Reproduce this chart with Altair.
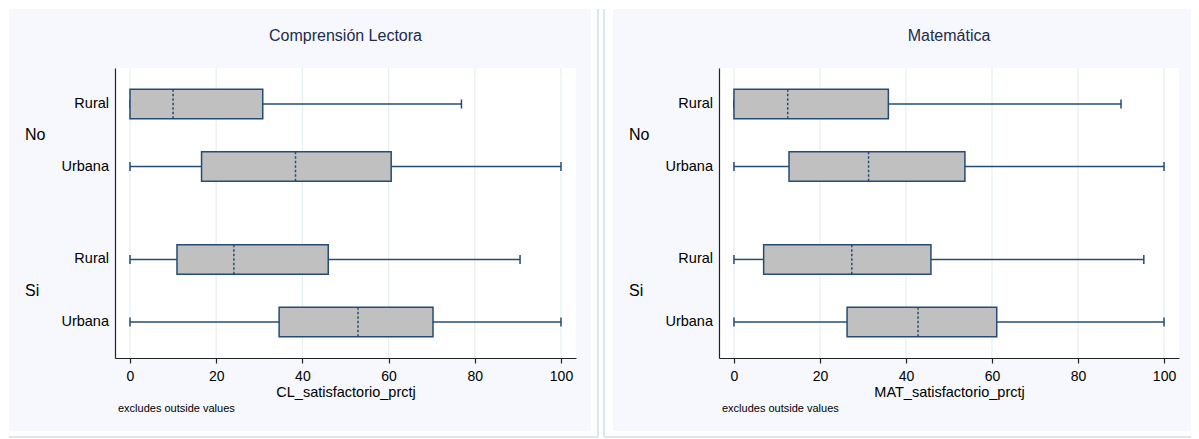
import altair as alt
import pandas as pd

# ---------------- data ----------------
subjects = ["Comprensión Lectora", "Matemática"]
x_titles = ["CL_satisfactorio_prctj", "MAT_satisfactorio_prctj"]
groups = ["No", "No", "Si", "Si"]
areas = ["Rural", "Urbana", "Rural", "Urbana"]

cl_lo = [0, 0, 0, 0]
cl_q1 = [0, 16.6, 10.9, 34.6]
cl_med = [10.0, 38.4, 24.1, 52.9]
cl_q3 = [30.8, 60.6, 46.0, 70.3]
cl_hi = [76.9, 100, 90.5, 100]

mat_lo = [0, 0, 0, 0]
mat_q1 = [0, 12.8, 6.9, 26.3]
mat_med = [12.5, 31.3, 27.4, 42.8]
mat_q3 = [35.9, 53.7, 45.8, 61.1]
mat_hi = [90.0, 100, 95.3, 100]

x_ticks = [0, 20, 40, 60, 80, 100]
note = "excludes outside values"

# ---------------- style ----------------
FONT = "Liberation Sans"
PANEL_BG = "#f6f8fd"
BORDER = "#dce6f2"
GRID = "#e6eef1"
BOX_FILL = "#c0c0c0"
NAVY = "#244c76"
AXIS_C = "#222222"
TITLE_C = "#1c2b4a"

H = 290
GROUP_STEP = 2.485      # layout spacing between the two groups (in row units)
BOX_HALF = 0.236
CAP_HALF = 0.072
Y_PAD = 0.576


def panel(title, xtitle, lo, q1, med, q3, hi, W, left_border):
    gidx = [sorted(set(groups)).index(g) for g in groups]
    sidx = [0 if a == "Rural" else 1 for a in areas]
    pos = [g * GROUP_STEP + s for g, s in zip(gidx, sidx)]
    df = pd.DataFrame({
        "group": groups, "area": areas, "lo": lo, "q1": q1, "med": med,
        "q3": q3, "hi": hi, "pos": pos,
    })
    df["ylo"] = df["pos"] - BOX_HALF
    df["yhi"] = df["pos"] + BOX_HALF
    df["clo"] = df["pos"] - CAP_HALF
    df["chi"] = df["pos"] + CAP_HALF
    gdf = df.groupby("group", as_index=False)["pos"].mean()

    xscale = alt.Scale(domain=[-3.48, 103.48], nice=False, zero=False)
    yscale = alt.Scale(domain=[-Y_PAD, max(pos) + Y_PAD], reverse=True, nice=False, zero=False)
    xaxis = alt.Axis(values=x_ticks, format="d", grid=False, zindex=1,
                     labelFontSize=14, labelColor="black", labelPadding=6,
                     domainColor=AXIS_C, domainWidth=1.2, tickColor=AXIS_C,
                     tickWidth=1.2, tickSize=5, title=xtitle, titleFontSize=14.5,
                     titleFontWeight="normal", titleColor="black", titlePadding=2)
    yaxis = alt.Axis(labels=False, ticks=False, grid=False, domainColor=AXIS_C,
                     domainWidth=1.2, title=None, zindex=1)

    def xe(f):
        return alt.X(f, type="quantitative", scale=xscale, axis=xaxis)

    def ye(f):
        return alt.Y(f, type="quantitative", scale=yscale, axis=yaxis)

    one = pd.DataFrame({"t": [title]})

    bg = alt.Chart(one).mark_rect(fill=PANEL_BG, strokeWidth=0).encode(
        x=alt.value(-106), x2=alt.value(W + 15), y=alt.value(-59), y2=alt.value(363))
    if left_border:
        bl, br = -115, W + 19
    else:
        bl, br = -106, W + 22
    borders = [
        alt.Chart(one).mark_rule(color=BORDER, strokeWidth=2).encode(
            x=alt.value(br), y=alt.value(-59), y2=alt.value(369)),
        alt.Chart(one).mark_rule(color=BORDER, strokeWidth=2).encode(
            x=alt.value(bl), x2=alt.value(br), y=alt.value(369)),
    ]
    if left_border:
        borders.append(alt.Chart(one).mark_rule(color=BORDER, strokeWidth=2).encode(
            x=alt.value(bl), y=alt.value(-59), y2=alt.value(369)))

    plot_bg = alt.Chart(one).mark_rect(fill="white", strokeWidth=0).encode(
        x=alt.value(0), x2=alt.value(W), y=alt.value(0), y2=alt.value(H))

    grid = alt.Chart(pd.DataFrame({"tick": x_ticks})).mark_rule(
        color=GRID, strokeWidth=1.2).encode(x=xe("tick"), y=alt.value(0), y2=alt.value(H))

    base = alt.Chart(df)
    wl = base.mark_rule(color=NAVY, strokeWidth=1.5).encode(x=xe("lo"), x2="q1", y=ye("pos"))
    wh = base.mark_rule(color=NAVY, strokeWidth=1.5).encode(x=xe("q3"), x2="hi", y=ye("pos"))
    cl = base.mark_rule(color=NAVY, strokeWidth=1.5).encode(x=xe("lo"), y=ye("clo"), y2="chi")
    ch = base.mark_rule(color=NAVY, strokeWidth=1.5).encode(x=xe("hi"), y=ye("clo"), y2="chi")
    box = base.mark_rect(fill=BOX_FILL, stroke=NAVY, strokeWidth=1.5).encode(
        x=xe("q1"), x2="q3", y=ye("ylo"), y2="yhi")
    medl = base.mark_rule(color=NAVY, strokeWidth=1.5, strokeDash=[2.5, 2]).encode(
        x=xe("med"), y=ye("ylo"), y2="yhi")

    lab = base.mark_text(align="right", baseline="middle", fontSize=14.5,
                         color="black", font=FONT).encode(
        x=alt.value(-6), y=ye("pos"), text="area")
    glab = alt.Chart(gdf).mark_text(align="left", baseline="middle", fontSize=16,
                                    color="black", font=FONT).encode(
        x=alt.value(-90), y=ye("pos"), text="group")
    ttl = alt.Chart(one).mark_text(align="center", baseline="middle", fontSize=16,
                                   color=TITLE_C, font=FONT).encode(
        x=alt.value(W / 2), y=alt.value(-32), text="t")
    nt = alt.Chart(pd.DataFrame({"t": [note]})).mark_text(
        align="left", baseline="middle", fontSize=11, color="black", font=FONT).encode(
        x=alt.value(3), y=alt.value(341), text="t")

    return alt.layer(bg, *borders, plot_bg, grid, wl, wh, cl, ch, box, medl,
                     lab, glab, ttl, nt).properties(width=W, height=H)


left = panel(subjects[0], x_titles[0], cl_lo, cl_q1, cl_med, cl_q3, cl_hi, 461, False)
right = panel(subjects[1], x_titles[1], mat_lo, mat_q1, mat_med, mat_q3, mat_hi, 460, True)

chart = alt.hconcat(left, right, spacing=4).properties(
    padding={"left": 0, "top": 0, "right": -8, "bottom": 0}, background="white"
).configure_view(stroke=None).configure_axis(
    labelFont=FONT, titleFont=FONT
)

chart.save("out.html", embed_options={"renderer": "svg", "actions": False})
